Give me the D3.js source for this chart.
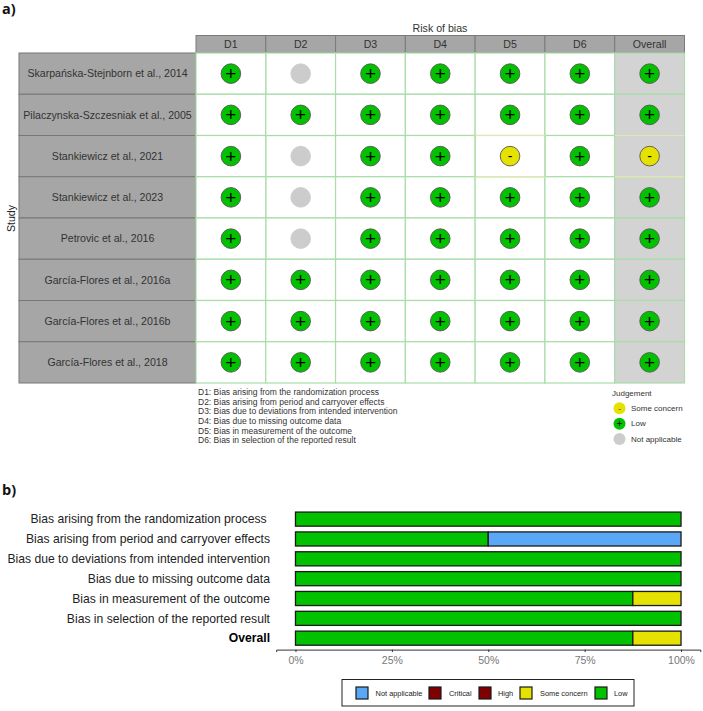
<!DOCTYPE html>
<html><head><meta charset="utf-8">
<script src="https://cdn.jsdelivr.net/npm/d3@7"></script>
<style>
html,body{margin:0;padding:0;background:#fff}
svg{display:block}
text{font-family:"Liberation Sans",Arial,sans-serif;white-space:pre}
</style></head><body>
<svg id="c" width="703" height="711"></svg>
<script>
const studies=["Skarpańska-Stejnborn et al., 2014","Pilaczynska-Szczesniak et al., 2005","Stankiewicz et al., 2021","Stankiewicz et al., 2023","Petrovic et al., 2016","García-Flores et al., 2016a","García-Flores et al., 2016b","García-Flores et al., 2018"];
const domains=["D1","D2","D3","D4","D5","D6","Overall"];
const judgementRows=[
 ["L","N","L","L","L","L","L"],
 ["L","L","L","L","L","L","L"],
 ["L","N","L","L","S","L","S"],
 ["L","N","L","L","L","L","L"],
 ["L","N","L","L","L","L","L"],
 ["L","L","L","L","L","L","L"],
 ["L","L","L","L","L","L","L"],
 ["L","L","L","L","L","L","L"]];
const footnotes=["D1: Bias arising from the randomization process","D2: Bias arising from period and carryover effects","D3: Bias due to deviations from intended intervention","D4: Bias due to missing outcome data","D5: Bias in measurement of the outcome","D6: Bias in selection of the reported result"];
const biasLabels=["Bias arising from the randomization process ","Bias arising from period and carryover effects","Bias due to deviations from intended intervention","Bias due to missing outcome data","Bias in measurement of the outcome","Bias in selection of the reported result","Overall"];
const lowPct=[100,50,100,100,87.5,100,87.5];
const somePct=[0,0,0,0,12.5,0,12.5];
const naPct=[0,50,0,0,0,0,0];
const xTicks=[0,25,50,75,100];
const judgeLegend=[["S","Some concern"],["L","Low"],["N","Not applicable"]];
const barLegend=[["Not applicable","#5aa7f5",356,375.6],["Critical","#7e0000",429,449],["High","#7e0000",479,498],["Some concern","#e5e100",520,540],["Low","#02c100",595,614]];

const GREEN="#02c100",YEL="#e5e100",NA="#cccccc";
const fill={L:GREEN,S:YEL,N:NA},sym={L:"+",S:"-",N:""};
const edge={L:"#a9dca9",S:"#dbe9b4",N:"#a9dca9"};
const svg=d3.select("#c");

svg.append("text").attr("x",2).attr("y",14).attr("font-size",14.5).attr("font-weight","bold").style("font-family","'Open Sans'").attr("fill","#111").text("a)");
svg.append("text").attr("x",2).attr("y",495).attr("font-size",14.5).attr("font-weight","bold").style("font-family","'Open Sans'").attr("fill","#111").text("b)");

// --- panel a
const x=d3.scaleBand().domain(domains).range([196,684.5]);
const y=d3.scaleBand().domain(studies).range([53,383]);
const cells=[];
studies.forEach((s,i)=>domains.forEach((d,j)=>cells.push({s,d,v:judgementRows[i][j]})));
const a=svg.append("g");
a.append("text").attr("x",440).attr("y",32).attr("text-anchor","middle").attr("font-size",10.6).attr("fill","#333").text("Risk of bias");
a.append("text").attr("transform","translate(15,218.5) rotate(-90)").attr("text-anchor","middle").attr("font-size",10.6).attr("fill","#222").text("Study");

a.selectAll(".head").data(domains).join("g").each(function(d){
  const g=d3.select(this);
  g.append("rect").attr("x",x(d)).attr("y",35.5).attr("width",x.bandwidth()).attr("height",17.5).attr("fill","#a6a6a6").attr("stroke","#7a7a7a").attr("stroke-width",1);
  g.append("text").attr("x",x(d)+x.bandwidth()/2).attr("y",48.2).attr("text-anchor","middle").attr("font-size",10.6).attr("fill","#333").text(d);
});
a.selectAll(".strip").data(studies).join("g").each(function(d){
  const g=d3.select(this);
  g.append("rect").attr("x",19).attr("y",y(d)).attr("width",177).attr("height",y.bandwidth()).attr("fill","#a6a6a6").attr("stroke","#777").attr("stroke-width",1);
  g.append("text").attr("x",107.5).attr("y",y(d)+y.bandwidth()/2+3.8).attr("text-anchor","middle").attr("font-size",10.6).attr("fill","#333").text(d);
});
const order={N:0,L:1,S:2};
const sorted=cells.slice().sort((p,q)=>order[p.v]-order[q.v]);
const w=x.bandwidth(),h=y.bandwidth();
a.selectAll(".cell").data(sorted).join("rect")
 .attr("x",d=>x(d.d)).attr("y",d=>y(d.s)).attr("width",w).attr("height",h)
 .attr("fill",d=>d.d==="Overall"?"#d3d3d3":"#fff").attr("stroke",d=>edge[d.v]).attr("stroke-width",1.2);
// pale top and bottom edges only for the "some concern" cells, so the green verticals stay
a.selectAll(".someEdge").data(cells.filter(d=>d.v==="S")).join("rect")
 .attr("x",d=>x(d.d)).attr("y",d=>y(d.s)).attr("width",w).attr("height",h).attr("fill","none")
 .attr("stroke",edge.S).attr("stroke-width",1.2).attr("stroke-dasharray",`${w} ${h}`);
a.selectAll(".vEdge").data(cells.filter(d=>d.v==="S")).join("path")
 .attr("d",d=>`M${x(d.d)},${y(d.s)}v${h}M${x(d.d)+w},${y(d.s)}v${h}`).attr("stroke",edge.L).attr("stroke-width",1.2);
a.selectAll(".pt").data(cells).join("circle")
 .attr("cx",d=>x(d.d)+w/2).attr("cy",d=>y(d.s)+h/2).attr("r",9.8)
 .attr("fill",d=>fill[d.v]).attr("stroke",d=>d.v==="N"?NA:"#555").attr("stroke-width",0.9);
a.selectAll(".sym").data(cells.filter(d=>d.v!=="N")).join("text")
 .attr("x",d=>x(d.d)+w/2).attr("y",d=>y(d.s)+h/2+(d.v==="L"?6.4:4.5))
 .attr("text-anchor","middle").attr("font-size",d=>d.v==="L"?19:14).attr("fill","#000").text(d=>sym[d.v]);

a.selectAll(".fn").data(footnotes).join("text").attr("x",198).attr("y",(d,i)=>395.2+i*9.6)
 .attr("font-size",8.5).attr("fill","#333").text(d=>d);

a.append("text").attr("x",612).attr("y",396).attr("font-size",8).attr("fill","#333").text("Judgement");
judgeLegend.forEach(([k,t],i)=>{
  const cy=408.3+i*15.4;
  a.append("circle").attr("cx",619.5).attr("cy",cy).attr("r",6).attr("fill",fill[k]);
  if(k!=="N") a.append("text").attr("x",619.5).attr("y",cy+(k==="L"?3.5:2.6)).attr("text-anchor","middle").attr("font-size",k==="L"?10:8).attr("fill","#222").text(sym[k]);
  a.append("text").attr("x",631).attr("y",cy+2.7).attr("font-size",8).attr("fill","#333").text(t);
});

// --- panel b
const xb=d3.scaleLinear().domain([-5,105]).range([276.2,700.3]);
const yb=d3.scaleBand().domain(biasLabels).range([509.2,648.1]).paddingInner(0.29).paddingOuter(0.145);
const rows=biasLabels.map((l,i)=>({label:l,low:lowPct[i],some:somePct[i],na:naPct[i]}));
const keys=["low","na","some"],kc={low:GREEN,na:"#5aa7f5",some:YEL};
const st=d3.stack().keys(keys)(rows);
const b=svg.append("g");
b.selectAll(".ser").data(st).join("g").attr("fill",s=>kc[s.key]).selectAll("rect").data(s=>s.filter(p=>p[1]>p[0])).join("rect")
 .attr("x",p=>xb(p[0])).attr("width",p=>xb(p[1])-xb(p[0])).attr("y",p=>yb(p.data.label)).attr("height",yb.bandwidth())
 .attr("stroke","#1a1a1a").attr("stroke-width",1.3);
b.selectAll(".lab").data(biasLabels).join("text").attr("x",270).attr("y",d=>yb(d)+yb.bandwidth()/2+4.2)
 .attr("text-anchor","end").attr("font-size",12.15).attr("fill",d=>d==="Overall"?"#000":"#222").attr("font-weight",d=>d==="Overall"?"bold":"normal").text(d=>d);
const ax=b.append("g").attr("transform","translate(0,649.6)").call(d3.axisBottom(xb).tickValues(xTicks).tickFormat(d=>d+"%").tickSizeOuter(0).tickSize(2.5));
ax.select(".domain").attr("stroke","#333").attr("stroke-width",1);
ax.selectAll("line").attr("stroke","#333");
ax.selectAll("text").attr("font-size",10.5).attr("fill","#777").attr("y",6.5).style("font-family","'Liberation Sans'");

b.append("rect").attr("x",342).attr("y",679.5).attr("width",292).attr("height",26.5).attr("fill","#fff").attr("stroke","#222").attr("stroke-width",1);
barLegend.forEach(([t,c,kx,tx])=>{
  b.append("rect").attr("x",kx).attr("y",687).attr("width",12).attr("height",12).attr("fill",c).attr("stroke","#1a1a1a").attr("stroke-width",1.2);
  b.append("text").attr("x",tx).attr("y",695.8).attr("font-size",7.4).attr("fill","#222").text(t);
});
</script>
</body></html>
